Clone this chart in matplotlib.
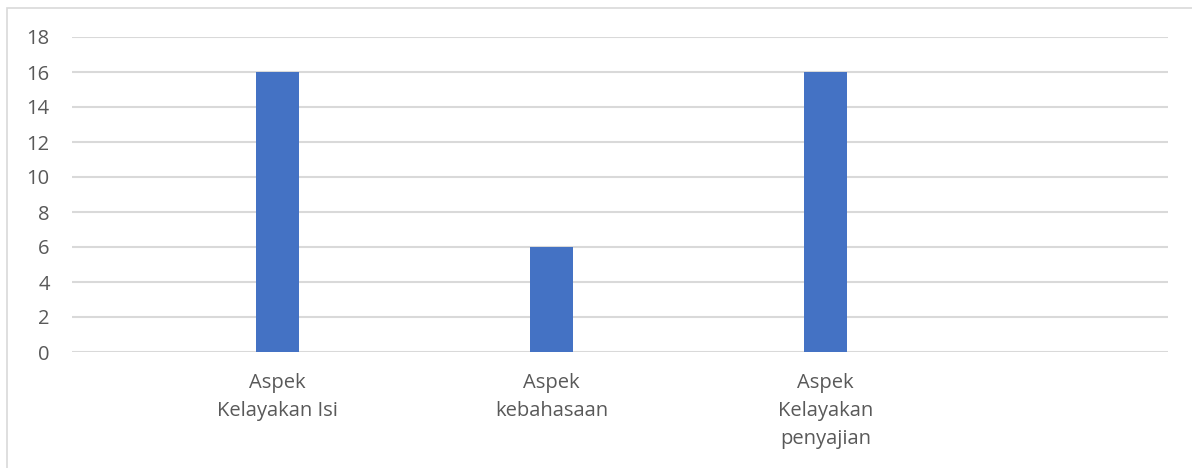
import matplotlib.pyplot as plt
from matplotlib.patches import Rectangle

categories = ["Aspek\nKelayakan Isi", "Aspek\nkebahasaan", "Aspek\nKelayakan\npenyajian"]
values = [16, 6, 16]
yticks = [0, 2, 4, 6, 8, 10, 12, 14, 16, 18]

plt.rcParams["font.family"] = ["Open Sans", "DejaVu Sans"]
TXT = "#595959"
GRID = "#d9d9d9"

fig = plt.figure(figsize=(11.92, 4.68), dpi=100)
# chart area border (runs off the right and bottom of the crop)
fig.patches.append(Rectangle((7 / 1192, -0.1), 1.2, (468 - 8) / 468 + 0.1,
                             transform=fig.transFigure, fill=False,
                             edgecolor=GRID, lw=1.2))

ax = fig.add_axes([72 / 1192, 116 / 468, 1096 / 1192, 315 / 468])
x = list(range(len(categories)))
ax.bar(x, values, width=43 / 274, color="#4472C4", zorder=3)

ax.set_xlim(-0.75, 3.25)
ax.set_ylim(0, 18)
ax.set_yticks(yticks)
ax.set_yticklabels([str(v) for v in yticks], fontsize=14.5, color=TXT)
ax.set_xticks(x)
ax.set_xticklabels(categories, fontsize=14.5, color=TXT, linespacing=1.54, va="top")
ax.tick_params(axis="both", length=0)
ax.tick_params(axis="x", pad=15)
ax.tick_params(axis="y", pad=16)

ax.grid(axis="y", color=GRID, lw=1.5, zorder=0)
for s in ax.spines.values():
    s.set_visible(False)

fig.savefig("out.png", dpi=100)
